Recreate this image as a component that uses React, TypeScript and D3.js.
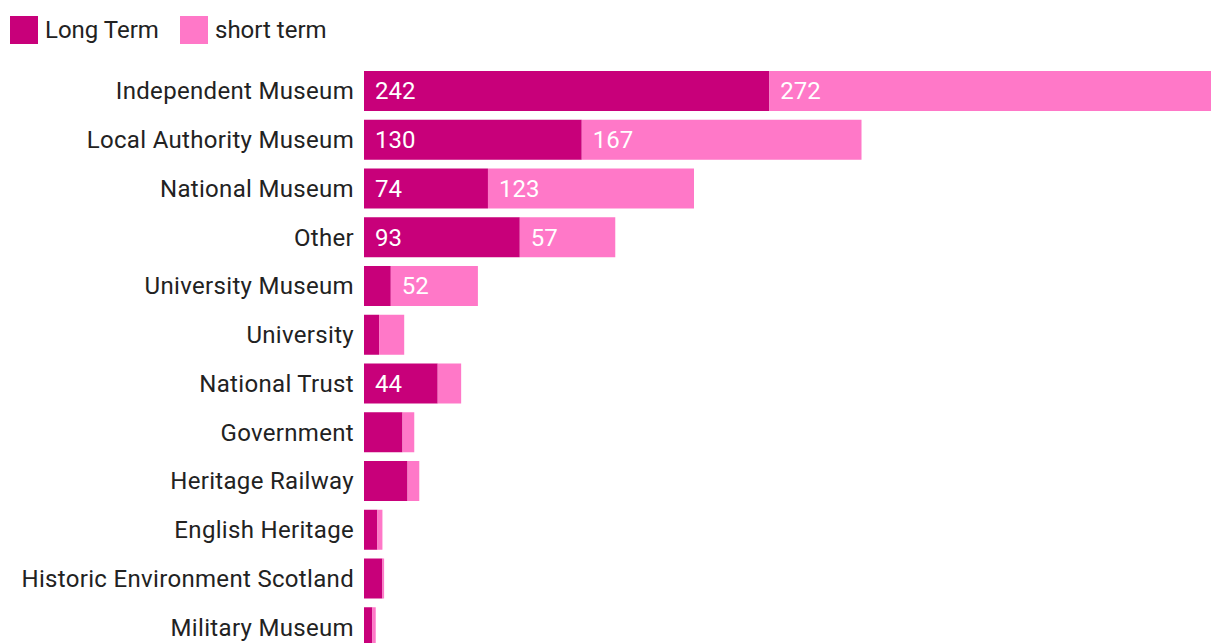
import React from "react";
import * as d3 from "d3";

const categories = [
  "Independent Museum",
  "Local Authority Museum",
  "National Museum",
  "Other",
  "University Museum",
  "University",
  "National Trust",
  "Government",
  "Heritage Railway",
  "English Heritage",
  "Historic Environment Scotland",
  "Military Museum",
];
const longTerm = [242, 130, 74, 93, 16, 9, 44, 23, 26, 8, 11, 5];
const shortTerm = [272, 167, 123, 57, 52, 15, 14, 7, 7, 3, 1, 2];
const seriesNames = ["Long Term", "short term"];
const colors = ["#c8007a", "#ff78c8"];

const W = 1211;
const H = 643;
const FONT = "Roboto, 'Noto Sans', sans-serif";
const FS = 24;

export default function App() {
  const x = d3.scaleLinear().domain([0, 514]).range([364, 364 + 861]);
  const step = 48.75;
  const gap = 8.75;
  const y = d3
    .scaleBand<string>()
    .domain(categories)
    .range([71, 71 + step * categories.length - gap])
    .paddingInner(gap / step)
    .paddingOuter(0);

  const stack = d3
    .stack<number>()
    .keys(["0", "1"])
    .value((i, k) => (k === "0" ? longTerm[i] : shortTerm[i]));
  const series = stack(categories.map((_, i) => i));

  return (
    <svg
      width={W}
      height={H}
      style={{ position: "absolute", left: 0, top: 0, display: "block", overflow: "hidden" }}
      fontFamily={FONT}
    >
      {/* legend */}
      <g>
        <rect x={10} y={16} width={28} height={28} fill={colors[0]} />
        <text x={45} y={30} dy="0.35em" fontSize={FS} fill="#222">
          {seriesNames[0]}
        </text>
        <rect x={180} y={16} width={28} height={28} fill={colors[1]} />
        <text x={215} y={30} dy="0.35em" fontSize={FS} fill="#222">
          {seriesNames[1]}
        </text>
      </g>
      {/* category labels */}
      {categories.map((c) => (
        <text
          key={c}
          x={354}
          y={(y(c) as number) + y.bandwidth() / 2}
          dy="0.35em"
          textAnchor="end"
          fontSize={FS}
          letterSpacing={0.32}
          fill="#222"
        >
          {c}
        </text>
      ))}
      {/* bars */}
      {series.map((s, si) => (
        <g key={si}>
          {s.map((d, i) => {
            const x0 = x(d[0]);
            const x1 = x(d[1]);
            const w = x1 - x0;
            const val = si === 0 ? longTerm[i] : shortTerm[i];
            const cy = (y(categories[i]) as number) + y.bandwidth() / 2;
            return (
              <g key={i}>
                <rect
                  x={x0}
                  y={y(categories[i])}
                  width={w}
                  height={y.bandwidth()}
                  fill={colors[si]}
                />
                {w > 48 && (
                  <text x={x0 + 11} y={cy} dy="0.35em" fontSize={FS} fill="#fff">
                    {val}
                  </text>
                )}
              </g>
            );
          })}
        </g>
      ))}
    </svg>
  );
}
